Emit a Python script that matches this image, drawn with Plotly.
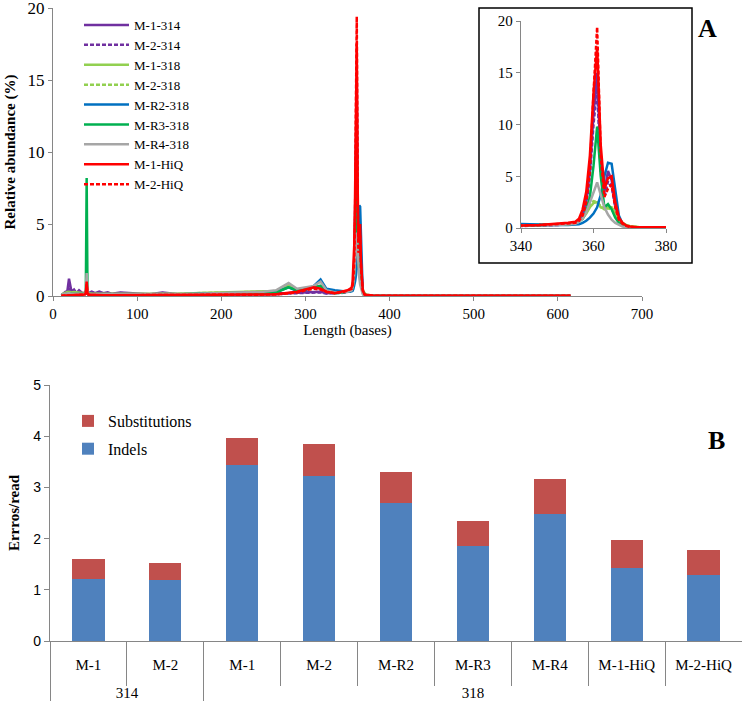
import plotly.graph_objects as go

# ---------------- Panel A data ----------------
length = [10, 15, 17, 19, 22, 25, 28, 31, 35, 38,
          39, 40, 41, 42, 46, 50, 55, 60, 65, 70,
          80, 90, 100, 115, 130, 150, 175, 200, 225, 250,
          265, 280, 290, 300, 310, 318, 325, 335, 345, 350,
          353, 355, 356, 357, 358, 359, 360, 361, 362, 363,
          364, 365, 366, 367, 368, 369, 370, 372, 375, 380,
          400, 500, 615]

m1_314 = [0.05, 0.3, 0.3, 1.2, 0.3, 0.45, 0.2, 0.4, 0.2, 0.2,
          0.25, 0.3, 0.25, 0.2, 0.3, 0.2, 0.3, 0.2, 0.25, 0.15,
          0.25, 0.2, 0.15, 0.12, 0.25, 0.12, 0.15, 0.15, 0.15, 0.15,
          0.15, 0.2, 0.22, 0.25, 0.3, 0.3, 0.2, 0.2, 0.25, 0.3,
          0.35, 0.5, 0.7, 1.2, 2.5, 5.5, 11.0, 15.0, 6.0, 3.5,
          5.5, 4.6, 2.3, 0.9, 0.4, 0.2, 0.1, 0.05, 0.02, 0.01,
          0.0, 0.0, 0.0]
m2_314 = [0.05, 0.2, 0.25, 0.6, 0.2, 0.35, 0.15, 0.3, 0.15, 0.15,
          0.2, 0.25, 0.2, 0.15, 0.25, 0.15, 0.2, 0.15, 0.2, 0.12,
          0.2, 0.15, 0.12, 0.1, 0.2, 0.1, 0.12, 0.12, 0.12, 0.12,
          0.12, 0.18, 0.2, 0.22, 0.25, 0.25, 0.18, 0.18, 0.22, 0.28,
          0.33, 0.45, 0.65, 1.1, 2.2, 5.0, 10.0, 13.5, 5.5, 3.0,
          4.5, 4.0, 2.0, 0.8, 0.35, 0.18, 0.08, 0.04, 0.02, 0.01,
          0.0, 0.0, 0.0]
m1_318 = [0.1, 0.25, 0.28, 0.3, 0.25, 0.28, 0.25, 0.22, 0.2, 0.2,
          0.3, 0.4, 0.3, 0.2, 0.15, 0.15, 0.12, 0.12, 0.1, 0.1,
          0.1, 0.1, 0.1, 0.12, 0.12, 0.15, 0.2, 0.25, 0.28, 0.3,
          0.35, 0.8, 0.45, 0.5, 0.6, 0.7, 0.35, 0.3, 0.3, 0.35,
          0.4, 0.5, 0.65, 0.9, 1.4, 2.0, 2.4, 2.5, 2.0, 1.9,
          2.0, 2.0, 1.5, 0.9, 0.5, 0.3, 0.2, 0.1, 0.05, 0.02,
          0.0, 0.0, 0.0]
m2_318 = [0.1, 0.2, 0.22, 0.25, 0.22, 0.25, 0.2, 0.2, 0.18, 0.18,
          0.25, 0.35, 0.25, 0.18, 0.14, 0.13, 0.12, 0.12, 0.1, 0.1,
          0.1, 0.1, 0.1, 0.12, 0.12, 0.15, 0.2, 0.22, 0.25, 0.28,
          0.32, 0.7, 0.4, 0.45, 0.55, 0.6, 0.3, 0.28, 0.3, 0.35,
          0.4, 0.5, 0.7, 1.0, 1.6, 2.2, 2.6, 2.5, 2.1, 1.8,
          1.9, 1.8, 1.3, 0.8, 0.45, 0.25, 0.15, 0.08, 0.04, 0.02,
          0.0, 0.0, 0.0]
mr2_318 = [0.08, 0.1, 0.1, 0.12, 0.1, 0.1, 0.1, 0.1, 0.1, 0.1,
           0.15, 0.3, 0.15, 0.1, 0.1, 0.08, 0.08, 0.08, 0.08, 0.08,
           0.08, 0.08, 0.08, 0.1, 0.1, 0.12, 0.15, 0.2, 0.25, 0.25,
           0.28, 0.6, 0.35, 0.4, 0.7, 1.15, 0.5, 0.4, 0.3, 0.3,
           0.3, 0.3, 0.35, 0.5, 0.7, 1.0, 1.4, 2.0, 3.2, 5.0,
           6.3, 6.2, 3.5, 1.2, 0.4, 0.2, 0.1, 0.05, 0.02, 0.01,
           0.0, 0.0, 0.0]
mr3_318 = [0.05, 0.15, 0.15, 0.2, 0.15, 0.15, 0.12, 0.12, 0.12, 0.15,
           0.3, 8.2, 0.3, 0.15, 0.12, 0.1, 0.1, 0.08, 0.08, 0.08,
           0.08, 0.08, 0.08, 0.08, 0.1, 0.1, 0.12, 0.15, 0.2, 0.22,
           0.25, 0.6, 0.4, 0.5, 0.6, 0.7, 0.3, 0.2, 0.25, 0.3,
           0.35, 0.45, 0.6, 0.9, 1.6, 3.0, 6.0, 9.8, 5.0, 2.0,
           2.3, 1.8, 1.0, 0.5, 0.25, 0.1, 0.05, 0.02, 0.01, 0.0,
           0.0, 0.0, 0.0]
mr4_318 = [0.1, 0.15, 0.15, 0.2, 0.15, 0.15, 0.15, 0.15, 0.15, 0.15,
           0.3, 1.6, 0.3, 0.15, 0.12, 0.12, 0.1, 0.1, 0.1, 0.1,
           0.1, 0.1, 0.1, 0.1, 0.12, 0.12, 0.15, 0.2, 0.25, 0.3,
           0.4, 0.9, 0.5, 0.6, 0.7, 1.0, 0.4, 0.25, 0.25, 0.3,
           0.35, 0.4, 0.6, 0.9, 1.5, 2.5, 3.6, 4.4, 3.2, 2.0,
           1.3, 0.8, 0.5, 0.3, 0.15, 0.08, 0.05, 0.02, 0.01, 0.0,
           0.0, 0.0, 0.0]
m1_hiq = [0.02, 0.03, 0.03, 0.04, 0.04, 0.05, 0.08, 0.08, 0.08, 0.1,
          0.2, 1.0, 0.2, 0.1, 0.08, 0.06, 0.06, 0.06, 0.06, 0.06,
          0.06, 0.06, 0.06, 0.06, 0.06, 0.06, 0.08, 0.08, 0.1, 0.1,
          0.12, 0.2, 0.3, 0.45, 0.6, 0.5, 0.3, 0.2, 0.3, 0.4,
          0.5, 0.6, 0.9, 1.8, 3.5, 7.0, 13.0, 17.5, 8.0, 3.8,
          4.8, 5.0, 2.5, 1.0, 0.5, 0.25, 0.15, 0.08, 0.05, 0.03,
          0.01, 0.01, 0.01]
m2_hiq = [0.02, 0.03, 0.03, 0.04, 0.04, 0.05, 0.07, 0.07, 0.07, 0.1,
          0.2, 0.8, 0.2, 0.1, 0.07, 0.05, 0.05, 0.05, 0.05, 0.05,
          0.05, 0.05, 0.05, 0.05, 0.05, 0.05, 0.07, 0.07, 0.08, 0.1,
          0.1, 0.18, 0.25, 0.4, 0.5, 0.45, 0.28, 0.2, 0.28, 0.38,
          0.45, 0.5, 0.7, 1.2, 2.5, 5.5, 13.0, 19.4, 7.0, 3.0,
          3.8, 4.2, 2.0, 0.8, 0.4, 0.2, 0.1, 0.05, 0.03, 0.02,
          0.01, 0.01, 0.01]

series_names = ["M-1-314", "M-2-314", "M-1-318", "M-2-318", "M-R2-318",
                "M-R3-318", "M-R4-318", "M-1-HiQ", "M-2-HiQ"]
series_values = [m1_314, m2_314, m1_318, m2_318, mr2_318,
                 mr3_318, mr4_318, m1_hiq, m2_hiq]
series_colors = ["#7030A0", "#7030A0", "#92D050", "#92D050", "#0070C0",
                 "#00B050", "#A6A6A6", "#FF0000", "#FF0000"]
series_dash = ["solid", "4px,2px", "solid", "4px,2px", "solid",
               "solid", "solid", "solid", "4px,2px"]

# ---------------- Panel B data ----------------
groups = ["314", "314", "318", "318", "318", "318", "318", "318", "318"]
samples = ["M-1", "M-2", "M-1", "M-2", "M-R2", "M-R3", "M-R4", "M-1-HiQ", "M-2-HiQ"]
indels = [1.22, 1.20, 3.44, 3.22, 2.70, 1.86, 2.49, 1.42, 1.28]
substitutions = [0.38, 0.33, 0.53, 0.62, 0.60, 0.48, 0.68, 0.55, 0.49]

SERIF = "Liberation Serif"
SANS = "Liberation Sans"
AX = "#868686"
W, H = 742, 709


def px(v):
    return v / W


def py(v):
    return 1 - v / H


# first-row labels get an empty second line so the group row sits lower (Excel look)
sample_labels = [s + "<br>\u00a0" for s in samples]

fig = go.Figure()

for name, vals, col, dash in zip(series_names, series_values, series_colors, series_dash):
    fig.add_trace(go.Scatter(x=length, y=vals, mode="lines", name=name,
                             line=dict(color=col, width=2.5, dash=dash),
                             xaxis="x", yaxis="y", legend="legend"))
for name, vals, col, dash in zip(series_names, series_values, series_colors, series_dash):
    fig.add_trace(go.Scatter(x=length, y=vals, mode="lines", name=name,
                             line=dict(color=col, width=2.5, dash=dash),
                             xaxis="x2", yaxis="y2", showlegend=False))

fig.add_trace(go.Bar(x=[groups, sample_labels], y=indels, name="Indels",
                     marker=dict(color="#4F81BD", line=dict(width=0)),
                     xaxis="x3", yaxis="y3", legend="legend2",
                     legendgroup="ind", legendrank=2))
fig.add_trace(go.Bar(x=[groups, sample_labels], y=substitutions, name="Substitutions",
                     marker=dict(color="#C0504D", line=dict(width=0)),
                     xaxis="x3", yaxis="y3", legend="legend2",
                     legendgroup="sub", legendrank=1))

fig.update_layout(
    template="none",
    width=W, height=H,
    margin=dict(l=0, r=0, t=0, b=0),
    paper_bgcolor="white", plot_bgcolor="rgba(0,0,0,0)",
    font=dict(family=SERIF, size=15, color="black"),
    barmode="stack", bargap=0.58,
    xaxis=dict(domain=[px(53), px(642)], range=[0, 700], dtick=100, tick0=0,
               showgrid=False, zeroline=False, showline=True, linecolor=AX, linewidth=1.3,
               ticks="outside", ticklen=4, tickcolor=AX, anchor="y",
               tickfont=dict(family=SERIF, size=15),
               title=dict(text="Length (bases)", font=dict(family=SERIF, size=15), standoff=0)),
    yaxis=dict(domain=[py(296), py(8)], range=[0, 20], dtick=5,
               showgrid=False, zeroline=False, showline=True, linecolor=AX, linewidth=1.3,
               ticks="outside", ticklen=4, tickcolor=AX, anchor="x",
               ticklabeloverflow="allow",
               tickfont=dict(family=SERIF, size=17),
               title=dict(text="<b>Relative abundance (%)</b>", font=dict(family=SERIF, size=15), standoff=8)),
    xaxis2=dict(domain=[px(521), px(666)], range=[340, 380], dtick=20, tick0=340,
                showgrid=False, zeroline=False, showline=True, linecolor=AX, linewidth=1.3,
                ticks="outside", ticklen=4, tickcolor=AX, anchor="y2",
                tickfont=dict(family=SERIF, size=15)),
    yaxis2=dict(domain=[py(228), py(21)], range=[0, 20], dtick=5,
                showgrid=False, zeroline=False, showline=True, linecolor=AX, linewidth=1.3,
                ticks="outside", ticklen=4, tickcolor=AX, anchor="x2",
                tickfont=dict(family=SERIF, size=15)),
    xaxis3=dict(domain=[px(50), 1.0], type="multicategory", anchor="y3",
                showgrid=False, zeroline=False, showline=True, linecolor=AX, linewidth=1.3,
                ticks="outside", tickson="boundaries", ticklen=44, tickcolor=AX,
                ticklabelstandoff=10,
                showdividers=True, dividercolor=AX, dividerwidth=1.3,
                tickfont=dict(family=SERIF, size=15)),
    yaxis3=dict(domain=[py(641), py(385)], range=[0, 5], dtick=1,
                showgrid=False, zeroline=False, showline=True, linecolor=AX, linewidth=1.3,
                ticks="outside", ticklen=5, tickcolor=AX, anchor="x3",
                tickfont=dict(family=SANS, size=14),
                title=dict(text="<b>Errros/read</b>", font=dict(family=SERIF, size=15), standoff=10)),
    legend=dict(x=px(79), y=py(10), xanchor="left", yanchor="top",
                bgcolor="rgba(0,0,0,0)", font=dict(family=SERIF, size=13),
                itemwidth=45, tracegroupgap=0),
    legend2=dict(x=px(68), y=py(404), xanchor="left", yanchor="top",
                 bgcolor="rgba(0,0,0,0)", font=dict(family=SERIF, size=16),
                 traceorder="grouped", tracegroupgap=4),
    shapes=[dict(type="rect", xref="paper", yref="paper",
                 x0=px(479), x1=px(692), y0=py(263), y1=py(8),
                 line=dict(color="black", width=1.5), fillcolor="white", layer="below")],
    annotations=[
        dict(text="<b>A</b>", xref="paper", yref="paper", x=px(707), y=py(28),
             xanchor="center", yanchor="middle",
             showarrow=False, font=dict(family=SERIF, size=26)),
        dict(text="<b>B</b>", xref="paper", yref="paper", x=px(716), y=py(440),
             xanchor="center", yanchor="middle",
             showarrow=False, font=dict(family=SERIF, size=26)),
    ],
)

fig.write_html("out.html", config={"displayModeBar": False},
               post_script="document.body.style.margin='0px';document.body.style.overflow='hidden';")
